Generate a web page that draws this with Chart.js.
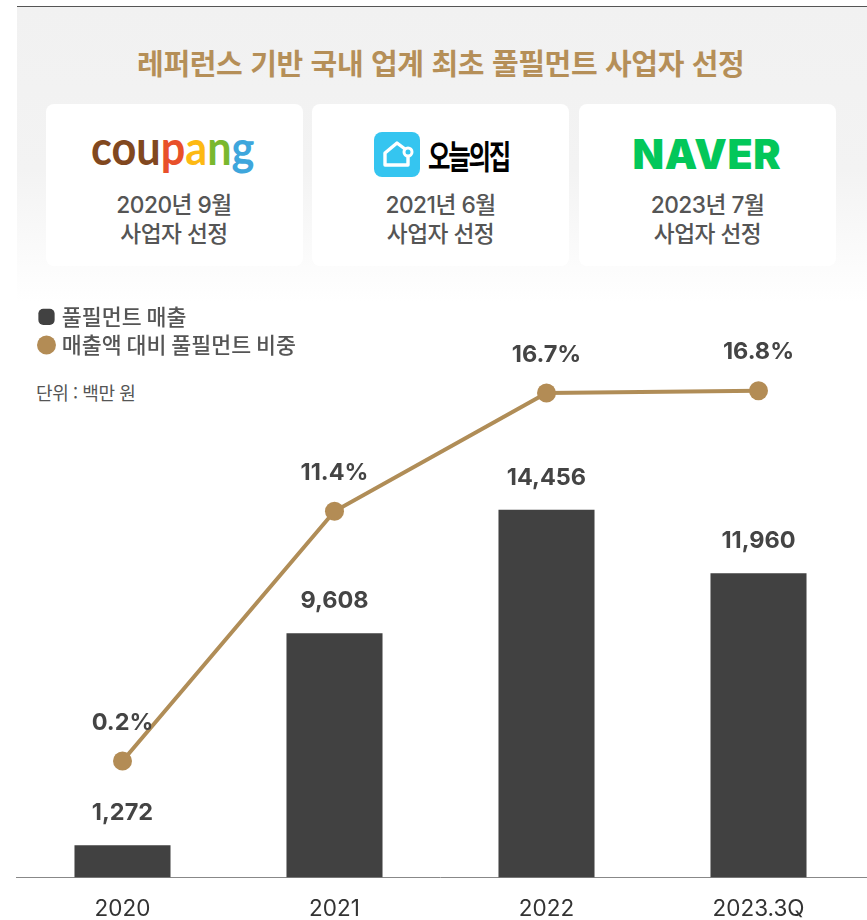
<!DOCTYPE html>
<html lang="ko">
<head>
<meta charset="utf-8">
<script src="https://cdn.jsdelivr.net/npm/chart.js@4"></script>
<style>
html,body{margin:0;padding:0;background:#fff;}
body{width:867px;height:920px;position:relative;overflow:hidden;font-family:Inter,"Noto Sans CJK KR",sans-serif;}
#panel{position:absolute;left:16.5px;right:0;top:6px;height:296px;border-top:1px solid #555;box-sizing:border-box;background:linear-gradient(#f1f1f1 0,#f3f3f3 55%,#ffffff 100%);}
#title{position:absolute;left:16.5px;right:0;top:41px;padding-right:2px;text-align:center;font:700 29px/42px "Noto Sans CJK KR",sans-serif;color:#b58f58;letter-spacing:-.35px;white-space:nowrap;}
.card{position:absolute;top:104px;height:161.5px;background:#fff;border-radius:8px;text-align:center;color:#555;font:500 22.7px/29px Inter,"Noto Sans CJK KR",sans-serif;letter-spacing:-.5px;}
.card .t{position:absolute;left:0;right:0;top:85.5px;}
.logo{position:absolute;white-space:nowrap;letter-spacing:0;transform-origin:left center;}
#unit{position:absolute;left:36px;top:379px;font:400 18px/26px "Noto Sans CJK KR",sans-serif;color:#555;letter-spacing:-.4px;}
#chart{position:absolute;left:0;top:0;}
#axisEnd{position:absolute;left:860px;right:0;top:877px;height:1px;background:#888;}
</style>
</head>
<body>
<div id="panel"></div>
<div id="title">레퍼런스 기반 국내 업계 최초 풀필먼트 사업자 선정</div>

<div class="card" style="left:45.5px;width:257px">
  <div class="logo" style="left:45px;top:13px;font:700 47px/60px Lato,sans-serif;transform:scaleX(.92)"><span style="color:#81481f">cou</span><span style="color:#e8502a">p</span><span style="color:#fdb913">a</span><span style="color:#7ab82e">n</span><span style="color:#3ea6dc">g</span></div>
  <div class="t">2020년 9월<br>사업자 선정</div>
</div>
<div class="card" style="left:312px;width:257px">
  <svg class="logo" style="left:62px;top:28px" width="46" height="45" viewBox="0 0 46 45"><rect width="46" height="45" rx="8" fill="#35c5f0"/><path d="M11 21 L23 11 L31 17 M34 24 V33 H11 V21" fill="none" stroke="#fff" stroke-width="3.4" stroke-linejoin="round" stroke-linecap="round"/><circle cx="34" cy="20" r="4" fill="#35c5f0" stroke="#fff" stroke-width="3"/></svg>
  <div class="logo" style="left:116px;top:30px;font:700 33px/42px 'Noto Sans CJK KR',sans-serif;color:#000;letter-spacing:-3px;transform:scaleX(.74)">오늘의집</div>
  <div class="t">2021년 6월<br>사업자 선정</div>
</div>
<div class="card" style="left:579px;width:257px">
  <div class="logo" style="left:53.5px;top:28px;font:900 41px/44px Inter,sans-serif;color:#03c75a;letter-spacing:.6px">NAVER</div>
  <div class="t">2023년 7월<br>사업자 선정</div>
</div>

<div id="unit">단위 : 백만 원</div>
<canvas id="chart" width="867" height="920"></canvas>
<div id="axisEnd"></div>

<script>
const categories = ["2020", "2021", "2022", "2023.3Q"];
const revenue = [1272, 9608, 14456, 11960];
const share = [0.2, 11.4, 16.7, 16.8];
const barLabel = "풀필먼트 매출";
const lineLabel = "매출액 대비 풀필먼트 비중";

const KFONT = '"Noto Sans CJK KR",sans-serif';
const NFONT = 'Inter,"Noto Sans CJK KR",sans-serif';

const valueLabels = {
  id: "valueLabels",
  afterDatasetsDraw(chart) {
    const ctx = chart.ctx;
    ctx.save();
    ctx.textAlign = "center";
    ctx.textBaseline = "middle";
    ctx.fillStyle = "#444";
    ctx.font = "700 23.5px " + NFONT;
    chart.getDatasetMeta(1).data.forEach((el, i) => {
      ctx.fillText(revenue[i].toLocaleString("en-US"), el.x, el.y - 32);
    });
    chart.getDatasetMeta(0).data.forEach((el, i) => {
      ctx.fillText(share[i].toFixed(1) + "%", el.x, el.y - 38.5);
    });
    ctx.restore();
  }
};
const legendPlace = {
  id: "legendPlace",
  afterLayout(chart) {
    chart.legend.left = 35.5;
    chart.legend.top = 299.5;
  }
};

new Chart(document.getElementById("chart"), {
  data: {
    labels: categories,
    datasets: [
      {
        type: "line", label: lineLabel, data: share, yAxisID: "y1", order: 0,
        borderColor: "#b08d57", borderWidth: 4, tension: 0,
        pointStyle: "circle", pointRadius: 9.5, pointHoverRadius: 9.5,
        pointBackgroundColor: "#b38c55", pointBorderColor: "#b38c55", pointBorderWidth: 0,
        backgroundColor: "#b38c55"
      },
      {
        type: "bar", label: barLabel, data: revenue, yAxisID: "y", order: 1,
        backgroundColor: "#414141", barPercentage: 0.453, categoryPercentage: 1,
        pointStyle: "rectRounded"
      }
    ]
  },
  plugins: [valueLabels, legendPlace],
  options: {
    responsive: false,
    animation: false,
    layout: { autoPadding: false, padding: { left: 16.5, right: 2.5, top: 290, bottom: -20.5 } },
    plugins: {
      tooltip: { enabled: false },
      title: { display: false },
      legend: {
        position: "chartArea", align: "start",
        labels: {
          usePointStyle: true, boxWidth: 9, boxHeight: 13.4, padding: 6.5,
          color: "#555", font: { family: KFONT, size: 21.7, weight: "500" },
          generateLabels(chart) {
            return [
              { text: barLabel, fillStyle: "#414141", strokeStyle: "#414141", lineWidth: 0, pointStyle: "rectRounded", datasetIndex: 1, fontColor: "#555" },
              { text: lineLabel, fillStyle: "#b38c55", strokeStyle: "#b38c55", lineWidth: 0, pointStyle: "circle", datasetIndex: 0, fontColor: "#555" }
            ];
          }
        }
      }
    },
    scales: {
      x: {
        grid: { display: false, drawTicks: false },
        border: { display: true, color: "#888", width: 1 },
        ticks: { color: "#333", padding: 18, maxRotation: 0, font: { family: NFONT, size: 22.5, weight: "400" } }
      },
      y: { display: false, min: 0, max: 23100 },
      y1: { display: false, min: -5.02, max: 21.32 }
    }
  }
});
</script>
</body>
</html>
